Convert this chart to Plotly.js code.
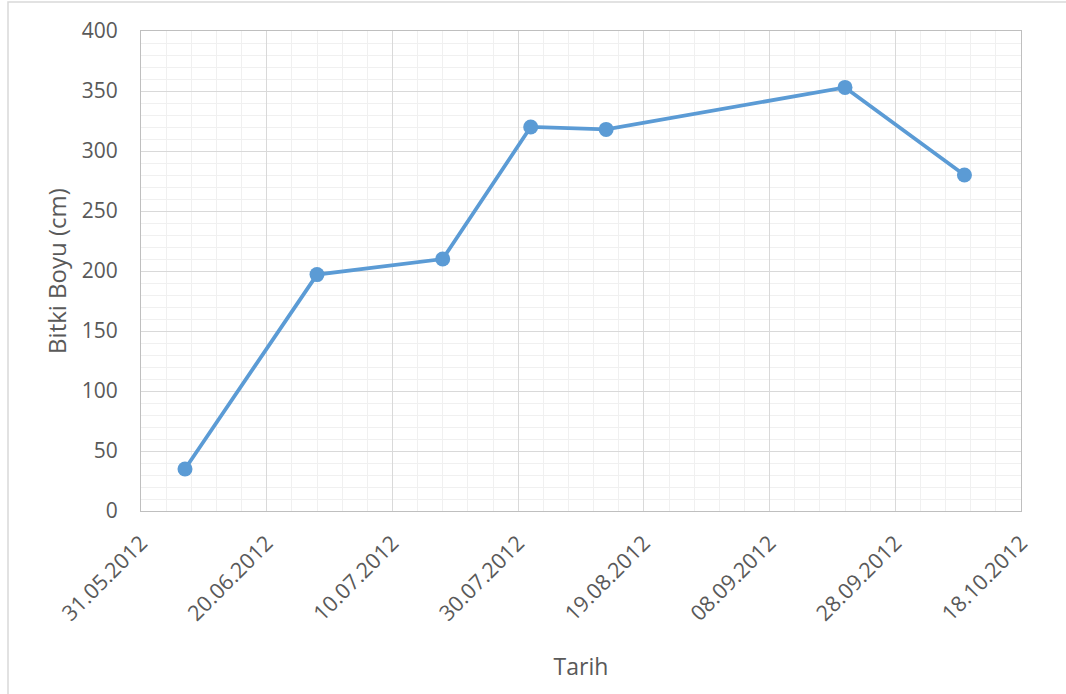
<!DOCTYPE html>
<html>
<head>
<meta charset="utf-8">
<script src="https://cdn.plot.ly/plotly-3.0.1.min.js"></script>
<style>html,body{margin:0;padding:0;background:#fff;}#chart{width:1066px;height:694px;}</style>
</head>
<body>
<div id="chart"></div>
<script>
const dates = ['2012-06-07','2012-06-28','2012-07-18','2012-08-01','2012-08-13','2012-09-20','2012-10-09'];
const heights = [35, 197, 210, 320, 318, 353, 280];
const xTitle = 'Tarih';
const yTitle = 'Bitki Boyu (cm)';
const xRange = ['2012-05-31','2012-10-18'];
const yRange = [0, 400];

const DAY = 86400000;
const W = 1066, H = 694, L = 141, R = 45, T = 31, B = 183;
const pw = W - L - R, ph = H - T - B;
function px(x){ return (x - L) / pw; }
function py(y){ return (H - B - y) / ph; }

const trace = {
  x: dates, y: heights, type: 'scatter', mode: 'lines+markers',
  line: {color: '#5b9bd5', width: 3.75},
  marker: {color: '#5b9bd5', size: 15},
  hoverinfo: 'x+y'
};
const fnt = {family: 'Open Sans, Liberation Sans, sans-serif', color: '#595959'};
const layout = {
  width: W, height: H,
  margin: {l: L, r: R, t: T, b: B},
  paper_bgcolor: '#ffffff', plot_bgcolor: '#ffffff',
  showlegend: false,
  font: fnt,
  xaxis: {
    type: 'date', range: xRange,
    tick0: '2012-05-31', dtick: 20 * DAY, tickformat: '%d.%m.%Y',
    tickangle: -45, tickfont: {family: fnt.family, size: 21.5, color: '#595959'},
    showgrid: true, gridcolor: '#d9d9d9', gridwidth: 1,
    minor: {tick0: '2012-05-31', dtick: 4 * DAY, showgrid: true, gridcolor: '#f0f0f0', gridwidth: 1},
    showline: true, linecolor: '#bfbfbf', linewidth: 1, mirror: true,
    ticks: 'outside', ticklen: 10, tickcolor: 'rgba(0,0,0,0)',
    zeroline: false,
    title: {text: xTitle, font: {family: fnt.family, size: 23, color: '#595959'}, standoff: 33}
  },
  yaxis: {
    range: yRange, dtick: 50, tick0: 0,
    tickfont: {family: fnt.family, size: 21, color: '#595959'},
    showgrid: true, gridcolor: '#d9d9d9', gridwidth: 1,
    minor: {dtick: 10, showgrid: true, gridcolor: '#f0f0f0', gridwidth: 1},
    showline: true, linecolor: '#bfbfbf', linewidth: 1, mirror: true,
    ticks: 'outside', ticklen: 18, tickcolor: 'rgba(0,0,0,0)',
    zeroline: false,
    title: {text: yTitle, font: {family: fnt.family, size: 24, color: '#595959'}, standoff: 8}
  },
  shapes: [
    {type: 'rect', xref: 'paper', yref: 'paper', x0: px(8), x1: px(1080), y0: py(2), y1: py(720),
     line: {color: '#d9d9d9', width: 1.5}, fillcolor: 'rgba(0,0,0,0)', layer: 'below'}
  ]
};
Plotly.newPlot('chart', [trace], layout, {displayModeBar: false, staticPlot: true});
</script>
</body>
</html>
